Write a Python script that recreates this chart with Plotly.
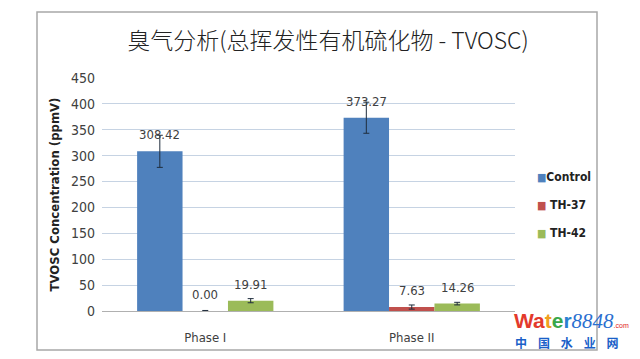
import plotly.graph_objects as go

categories = ["Phase I", "Phase II"]
series_names = ["Control", "TH-37", "TH-42"]
control_vals = [308.42, 373.27]
th37_vals = [0.00, 7.63]
th42_vals = [19.91, 14.26]
control_err = [31, 30]
th37_err = [1, 4]
th42_err = [4, 2.5]
y_ticks = [0, 50, 100, 150, 200, 250, 300, 350, 400, 450]

colors = ["#4F81BD", "#C0504D", "#9BBB59"]
vals = [control_vals, th37_vals, th42_vals]
errs = [control_err, th37_err, th42_err]

W, H = 640, 359
L, R, T, B = 102, 125, 78, 48
PW, PH = W - L - R, H - T - B
BARGAP = 0.34
FONT = "Liberation Sans Narrow, DejaVu Sans Condensed, sans-serif"

def px(x):
    return (x - L) / PW

def py(y):
    return (H - B - y) / PH

fig = go.Figure()
for name, v, e, c in zip(series_names, vals, errs, colors):
    fig.add_trace(go.Bar(
        name=name, x=categories, y=v, showlegend=False,
        marker=dict(color=c, line=dict(width=0)),
        error_y=dict(type="data", array=e, visible=True, color="#1f2d3d", thickness=1, width=3),
        cliponaxis=False,
    ))

# value labels above bars
bar_w = PW / len(categories) * (1 - BARGAP) / len(series_names)
for si, v in enumerate(vals):
    for ci, cat in enumerate(categories):
        fig.add_annotation(x=cat, y=v[ci], xshift=(si - 1) * bar_w, yshift=7,
                           yanchor="bottom", xanchor="center", showarrow=False,
                           text=f"{v[ci]:.2f}",
                           font=dict(size=13, color="#404040", family=FONT))

# legend entries
for i, (name, c) in enumerate(zip(series_names, colors)):
    fig.add_annotation(xref="paper", yref="paper", x=px(535), y=py(177 + 28 * i),
                       xanchor="left", yanchor="middle", showarrow=False,
                       text=f"<span style='color:{c};font-size:11px'>■</span><b>{' ' if i else ''}{name}</b>",
                       font=dict(size=12, color="#222222", family=FONT))

fig.update_layout(
    width=W, height=H,
    margin=dict(l=L, r=R, t=T, b=B),
    paper_bgcolor="white", plot_bgcolor="white",
    barmode="group", bargap=BARGAP, bargroupgap=0,
    title=dict(text="臭气分析(总挥发性有机硫化物 - TVOSC)", x=328 / W, xanchor="center",
               y=1 - 41 / H, yanchor="middle",
               font=dict(size=23, color="#222222", family="Noto Sans CJK SC, sans-serif", weight=300)),
    showlegend=False,
    font=dict(family=FONT, color="#404040"),
)
fig.update_xaxes(showline=True, linecolor="#b0b0b0", linewidth=1, ticks="", showgrid=False,
                 tickfont=dict(size=13, color="#404040"), ticklabelstandoff=14)
fig.update_yaxes(range=[0, 450], tickvals=y_ticks, showgrid=True, gridcolor="#c6d3e3", gridwidth=1,
                 zeroline=False, showline=False, tickfont=dict(size=14, color="#404040"),
                 ticklabelstandoff=6,
                 title=dict(text="<b>TVOSC Concentration (ppmV)</b>", standoff=8,
                            font=dict(size=13, color="#222222")))

# frame around chart
fig.add_shape(type="rect", xref="paper", yref="paper",
              x0=px(37), x1=px(597), y0=py(350), y1=py(12),
              line=dict(color="#a8a8a8", width=1.5), layer="above")

# watermark
fig.add_annotation(xref="paper", yref="paper", x=px(512), y=py(321),
                   xanchor="left", yanchor="middle", showarrow=False,
                   text="<b><span style='color:#e33a2c'>Wa</span><span style='color:#f0a020'>t</span><span style='color:#3aa84a'>e</span><span style='color:#2a7fd0'>r</span></b><i><span style='color:#2a6fd0;font-family:Liberation Serif'>8848</span></i><span style='color:#e02020;font-size:7px'>.com</span>",
                   font=dict(size=21, family="Liberation Sans, sans-serif"))
fig.add_annotation(xref="paper", yref="paper", x=px(513), y=py(342),
                   xanchor="left", yanchor="middle", showarrow=False,
                   text="<b>中    国    水    业    网</b>",
                   font=dict(size=12, color="#1a5fc8", family="Noto Sans CJK SC, sans-serif"))

fig.write_html("out.html", config={"displayModeBar": False},
               post_script="document.body.style.margin='0';document.body.style.overflow='hidden';")
